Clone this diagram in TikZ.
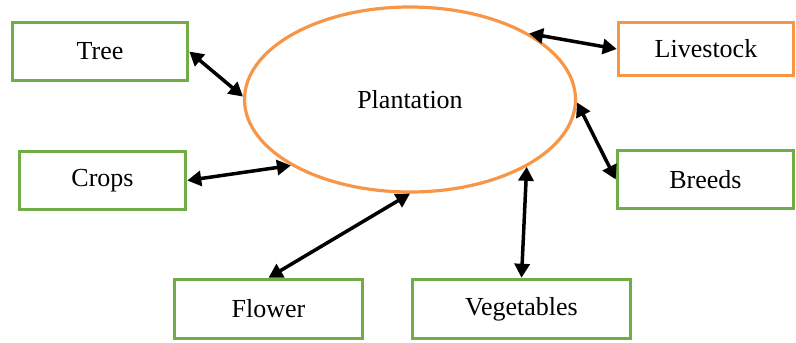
\documentclass[tikz,border=0pt]{standalone}
\usepackage{fontspec}
\setmainfont{Liberation Serif}
\usepackage{tikz}
\usetikzlibrary{arrows.meta,shapes.geometric}

\definecolor{boxgreen}{HTML}{70AD47}
\definecolor{boxorange}{HTML}{F79646}

\begin{document}
\begin{tikzpicture}[x=1pt,y=-1pt,
		box/.style={draw=boxgreen,line width=3.5pt,inner sep=0pt,minimum width=#1,
			font=\fontsize{26}{30}\selectfont},
		link/.style={{Triangle[length=14pt,width=15pt]}-{Triangle[length=14pt,width=15pt]},line width=3.5pt}]
			\useasboundingbox (0,0) rectangle (796,343);

			\node[draw=boxorange,line width=3.2pt,ellipse,inner sep=0pt,minimum width=331pt,minimum height=185pt,
				font=\fontsize{26}{30}\selectfont] (plant) at (410,99.5) {Plantation};

			\node[box=175pt,minimum height=58pt] (tree) at (100,51.5) {Tree};
			\node[box=175pt,minimum height=53pt,draw=boxorange] (livestock) at (706,49) {Livestock};
			\node[box=166pt,minimum height=58pt] (crops) at (102.5,180.5) {Crops};
			\node[box=176pt,minimum height=58pt] (breeds) at (705.5,179.5) {Breeds};
			\node[box=188pt,minimum height=59pt] (flower) at (268.5,309) {Flower};
			\node[box=218pt,minimum height=59pt] (veg) at (521.5,309) {Vegetables};

			\draw[link] (tree.east) -- (plant.179);
			\draw[link] (livestock.west) -- (plant.29.4);
			\draw[link] (crops.east) -- (plant.209.6);
			\draw[link] (breeds.west) -- (plant.359);
			\draw[link] (flower.north) -- (plant.270);
			\draw[link] (veg.north) -- (plant.330.2);
		\end{tikzpicture}
\end{document}
